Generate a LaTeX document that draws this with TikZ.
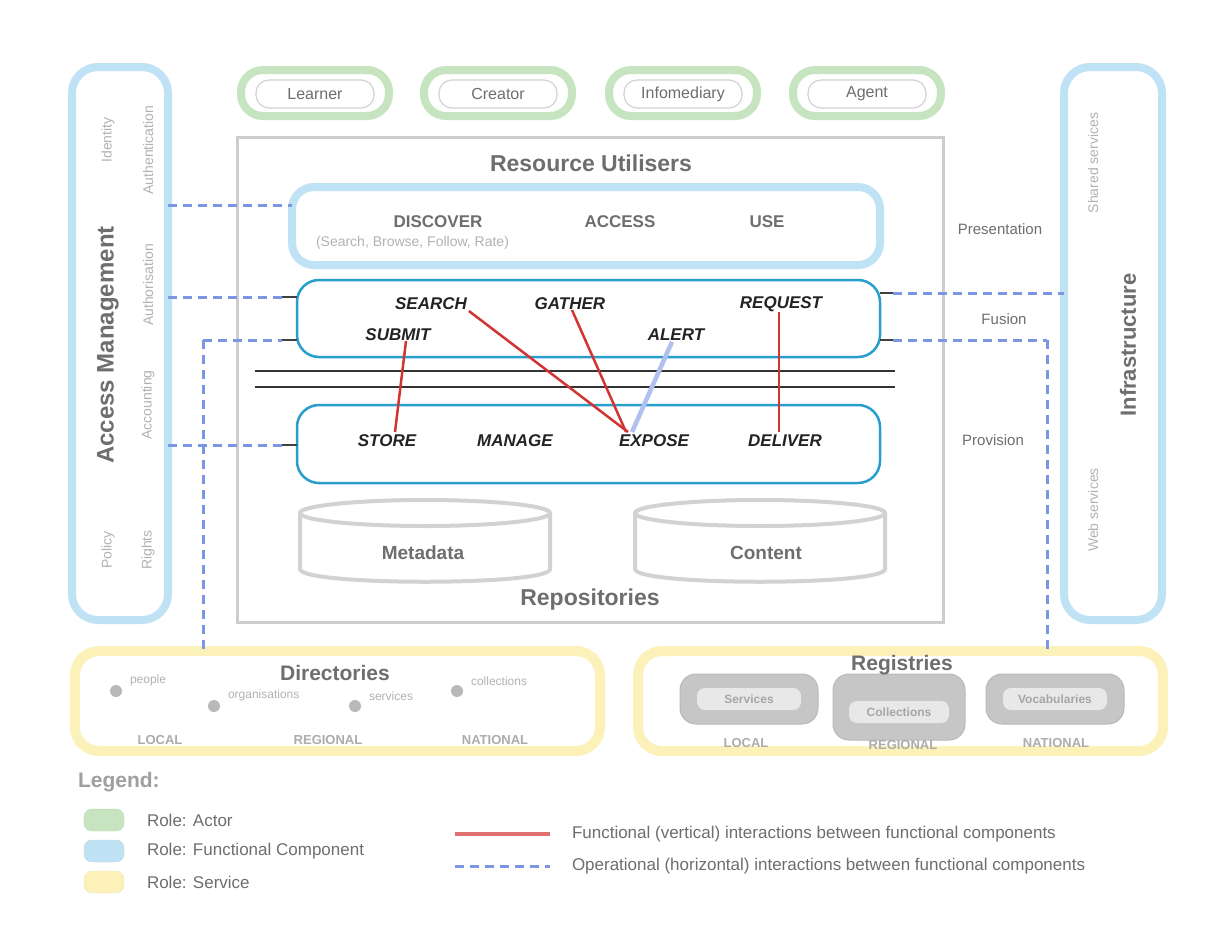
\documentclass[tikz,border=0pt]{standalone}
\usepackage{fontspec}
\setmainfont{Liberation Sans}
\newcommand\fsz[1]{\fontsize{#1}{#1}\selectfont}
\definecolor{actorgreen}{RGB}{198,228,192}
\definecolor{fclight}{RGB}{192,226,245}
\definecolor{fcdark}{RGB}{40,158,205}
\definecolor{svcyellow}{RGB}{252,241,184}
\definecolor{opblue}{RGB}{125,150,228}
\definecolor{relred}{RGB}{210,52,50}
\definecolor{framegray}{RGB}{205,205,205}
\definecolor{txtgray}{RGB}{110,110,110}
\definecolor{fnblack}{RGB}{35,35,35}
\begin{document}
\begin{tikzpicture}[x=1pt,y=-1pt,
  every node/.style={inner sep=0pt, outer sep=0pt},
  actor/.style={draw=actorgreen, line width=8pt, rounded corners=22pt, minimum width=148pt, minimum height=46pt},
  actorin/.style={draw=gray!35, line width=1.2pt, rounded corners=13pt, minimum width=118pt, minimum height=28pt, font=\fsz{16}, text=txtgray},
  fcside/.style={draw=fclight, line width=8pt, rounded corners=26pt},
  fcbox/.style={draw=fcdark, line width=2.5pt, rounded corners=22pt},
  frame/.style={draw=framegray, line width=3pt},
  svc/.style={draw=svcyellow, line width=10pt, rounded corners=24pt},
  fn/.style={font=\fsz{17}\bfseries\itshape, text=fnblack},
  lbl/.style={font=\fsz{15}, text=txtgray},
  small/.style={font=\fsz{14}, text=gray!60},
  head/.style={font=\fsz{23}\bfseries, text=txtgray},
  word/.style={font=\fsz{17}\bfseries, text=txtgray},
  op/.style={draw=opblue, line width=3pt, dash pattern=on 9pt off 6pt},
  rel/.style={draw=relred, line width=2.5pt},
  tick/.style={draw=black!75, line width=1.5pt},
  repo/.style={draw=gray!35, line width=4pt},
  dot/.style={circle, fill=gray!55, minimum size=12pt},
  reg/.style={fill=gray!45, draw=gray!55, line width=1pt, rounded corners=16pt},
  regin/.style={fill=gray!18, rounded corners=8pt, minimum width=104pt, minimum height=22pt, font=\fsz{12}\bfseries, text=gray!70},
  level/.style={font=\fsz{13}\bfseries, text=gray!65},
  keytext/.style={font=\fsz{17}, text=txtgray, anchor=west}
]
\useasboundingbox (0,0) rectangle (1224,938);
\fill[white] (0,0) rectangle (1224,938);

% ---- side functional components ----
\node[fcside, minimum width=96pt, minimum height=553pt] (access) at (120,343.5) {};
\node[head, font=\fsz{24}\bfseries, rotate=90] (accesst) at (108,345) {Access Management};
\node[small, rotate=90] (acc1) at (108,140) {Identity};
\node[small, rotate=90] (acc2) at (108,550) {Policy};
\node[small, rotate=90] (acc3) at (148,150) {Authentication};
\node[small, rotate=90] (acc4) at (148,285) {Authorisation};
\node[small, rotate=90] (acc5) at (148,405) {Accounting};
\node[small, rotate=90] (acc6) at (148,550) {Rights};

\node[fcside, minimum width=98pt, minimum height=553pt] (infra) at (1113,343.5) {};
\node[head, font=\fsz{22}\bfseries, rotate=90] (infrat) at (1128,345) {Infrastructure};
\node[small, rotate=90] (inf1) at (1093,163) {Shared services};
\node[small, rotate=90] (inf2) at (1093,510) {Web services};

% ---- actors ----
\foreach \n/\x/\t in {a1/315/Learner, a2/498/Creator, a3/683/Infomediary, a4/867/Agent}{
  \node[actor] (\n) at (\x,93) {};
  \node[actorin] (\n t) at (\x,94) {\t};
}

% ---- resource utilisers frame ----
\node[frame, minimum width=706pt, minimum height=485pt] (util) at (590,379.5) {};
\node[head] (utilt) at (591,163) {Resource Utilisers};

\node[fcside, rounded corners=22pt, minimum width=588pt, minimum height=78pt] (present) at (586,226) {};
\node[word] (discover) at (438,222) {DISCOVER};
\node[word] (accessw) at (620,222) {ACCESS};
\node[word] (use) at (767,222) {USE};
\node[small, font=\fsz{14}, anchor=west] (discsub) at (316,243) {(Search, Browse, Follow, Rate)};

\node[fcbox, minimum width=583pt, minimum height=77pt] (fusion) at (588.5,318.5) {};
\node[fn] (search) at (431,304) {SEARCH};
\node[fn] (gather) at (570,304) {GATHER};
\node[fn] (request) at (781,304) {REQUEST};
\node[fn] (submit) at (398,335) {SUBMIT};
\node[fn] (alert) at (676,335) {ALERT};

\draw[black!80, line width=1.3pt] (255,371) -- (895,371);
\draw[black!80, line width=1.3pt] (255,387) -- (895,387);

\node[fcbox, minimum width=583pt, minimum height=78pt] (provision) at (588.5,444) {};
\node[fn] (store) at (387,441) {STORE};
\node[fn] (manage) at (515,441) {MANAGE};
\node[fn] (expose) at (654,441) {EXPOSE};
\node[fn] (deliver) at (785,441) {DELIVER};

% functional (vertical) interactions
\draw[rel] ([xshift=8pt]submit.south) -- ([xshift=8pt,yshift=3pt]store.north);
\draw[rel] ([xshift=2pt,yshift=-1pt]search.south east) -- ([xshift=-26pt,yshift=3pt]expose.north);
\draw[rel] ([xshift=2pt]gather.south) -- ([xshift=-28pt,yshift=3pt]expose.north);
\draw[rel] ([xshift=-2pt]request.south) -- ([xshift=-6pt,yshift=3pt]deliver.north);
\draw[draw=opblue!60, line width=4.5pt] ([xshift=-4pt,yshift=-1pt]alert.south) -- ([xshift=-22pt,yshift=3pt]expose.north);

% ---- repositories ----
\draw[repo, fill=white] (300,513) -- (300,569) .. controls (300,586) and (550,586) .. (550,569) -- (550,513);
\draw[repo] (425,513) ellipse [x radius=125, y radius=13];
\node[word, font=\fsz{19}\bfseries] (meta) at (423,553) {Metadata};
\draw[repo, fill=white] (635,513) -- (635,569) .. controls (635,586) and (885,586) .. (885,569) -- (885,513);
\draw[repo] (760,513) ellipse [x radius=125, y radius=13];
\node[word, font=\fsz{19}\bfseries] (assets) at (766,553) {Content};
\node[head] (repos) at (590,600) {Repositories};

% ---- layer labels ----
\node[lbl] (lpres) at (1000,229) {Presentation};
\node[lbl] (lfus) at (1004,319) {Fusion};
\node[lbl] (lprov) at (993,440) {Provision};

% ---- services ----
\node[svc, minimum width=525pt, minimum height=100pt] (dirs) at (337.5,701) {};
\node[head, font=\fsz{21}\bfseries] (dirst) at (335,673) {Directories};
\node[dot] (d1) at (116,691) {};
\node[dot] (d2) at (214,706) {};
\node[dot] (d3) at (355,706) {};
\node[dot] (d4) at (457,691) {};
\node[small, font=\fsz{12}, anchor=south west] (d1t) at (130,686) {people};
\node[small, font=\fsz{12}, anchor=south west] (d2t) at (228,701) {organisations};
\node[small, font=\fsz{12}, anchor=south west] (d3t) at (369,701) {services};
\node[small, font=\fsz{12}, anchor=south west] (d4t) at (471,686) {collections};
\node[level] (dl1) at (160,740) {LOCAL};
\node[level] (dl2) at (328,740) {REGIONAL};
\node[level] (dl3) at (495,740) {NATIONAL};

\node[svc, minimum width=525pt, minimum height=100pt] (regs) at (900.5,701) {};
\node[reg, minimum width=138pt, minimum height=50pt] (r1) at (749,699) {};
\node[regin] (r1t) at (749,699) {Services};
\node[reg, minimum width=132pt, minimum height=66pt] (r2) at (899,707) {};
\node[regin, minimum width=100pt] (r2t) at (899,712) {Collections};
\node[head, font=\fsz{21}\bfseries] (regst) at (902,665) {Registries};
\node[reg, minimum width=138pt, minimum height=50pt] (r3) at (1055,699) {};
\node[regin] (r3t) at (1055,699) {Vocabularies};
\node[level] (rl1) at (746,743) {LOCAL};
\node[level] (rl2) at (903,745) {REGIONAL};
\node[level] (rl3) at (1056,743) {NATIONAL};

% ---- operational (horizontal) interactions ----
\coordinate (tp) at (200,205);
\coordinate (tl1) at (282,297);
\coordinate (tl2) at (282,340);
\coordinate (tl3) at (282,445);
\coordinate (vl) at (203,340);
\coordinate (tr1) at (893,293);
\coordinate (tr2) at (893,340);
\coordinate (vr) at (1047,340);

\draw[op] (access.east |- tp) -- (present.west |- tp);
\draw[op] (access.east |- tl1) -- (tl1);
\draw[tick] (tl1) -- (fusion.west |- tl1);
\draw[op] (vl) -- (tl2);
\draw[tick] (tl2) -- (fusion.west |- tl2);
\draw[op] (vl) -- (vl |- dirs.north);
\draw[op] (access.east |- tl3) -- (tl3);
\draw[tick] (tl3) -- (provision.west |- tl3);

\draw[tick] (fusion.east |- tr1) -- (tr1);
\draw[op] (tr1) -- (infra.west |- tr1);
\draw[tick] (fusion.east |- tr2) -- (tr2);
\draw[op] (tr2) -- (vr);
\draw[op] (vr) -- (vr |- regs.north);

% ---- legend ----
\node[font=\fsz{21}\bfseries, text=gray!75, anchor=west] (legend) at (78,782) {Legend:};
\node[fill=actorgreen, draw=actorgreen!80!black!60, rounded corners=8pt, minimum width=40pt, minimum height=22pt] (k1) at (104,820) {};
\node[fill=fclight, draw=fclight!80!black!60, rounded corners=8pt, minimum width=40pt, minimum height=22pt] (k2) at (104,851) {};
\node[fill=svcyellow, draw=svcyellow!80!black!40, rounded corners=8pt, minimum width=40pt, minimum height=22pt] (k3) at (104,882) {};
\node[keytext] (k1t) at (147,820) {Role: Actor};
\node[keytext] (k2t) at (147,851) {Role: Functional Component};
\node[keytext] (k3t) at (147,882) {Role: Service};

\coordinate (kr1) at (455,834);
\coordinate (kr2) at (550,834);
\coordinate (kb1) at (455,866);
\coordinate (kb2) at (550,866);
\draw[draw=relred!70!white, line width=4pt] (kr1) -- (kr2);
\draw[op] (kb1) -- (kb2);
\node[keytext] (krt) at (572,834) {Functional (vertical) interactions between functional components};
\node[keytext] (kbt) at (572,866) {Operational (horizontal) interactions between functional components};
\end{tikzpicture}
\end{document}
